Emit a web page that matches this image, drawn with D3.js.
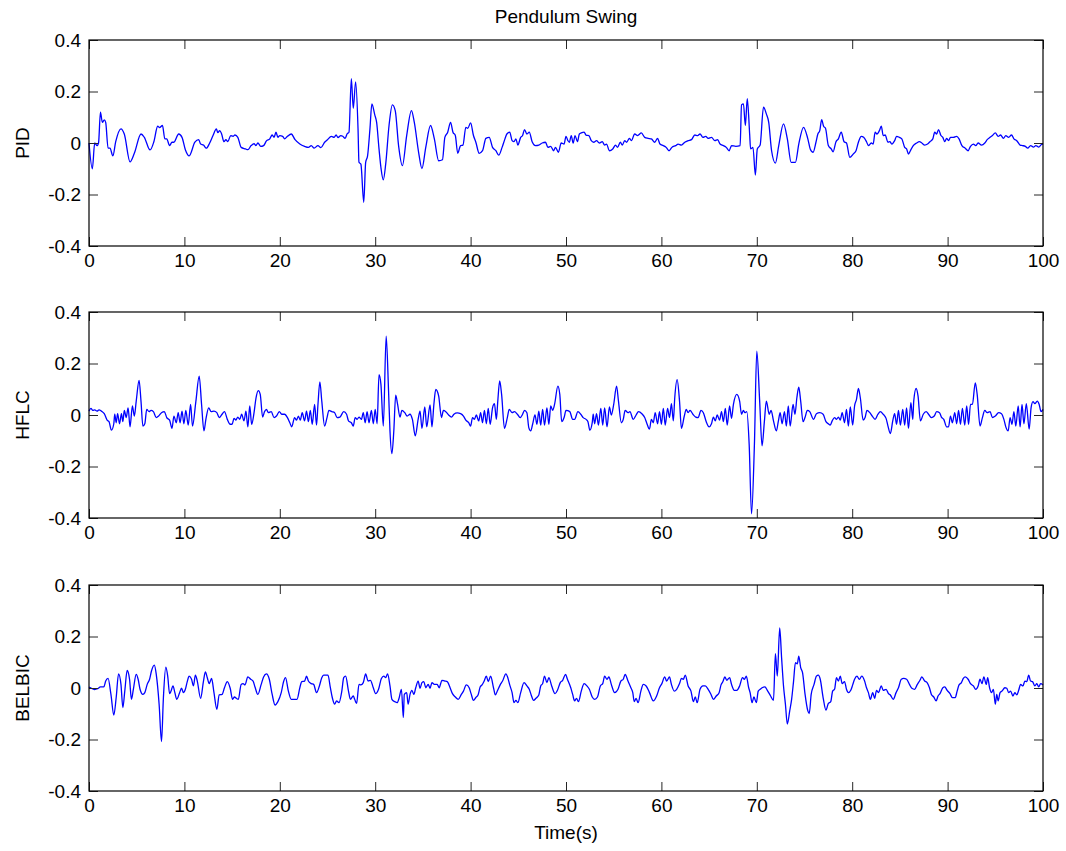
<!DOCTYPE html>
<html>
<head>
<meta charset="utf-8">
<script src="https://cdn.jsdelivr.net/npm/d3@7"></script>
<style>
    body { margin: 0; background: #ffffff; }
    text { font-family: "Liberation Sans", Arial, Helvetica, sans-serif; }
</style>
</head>
<body>
<svg id="pendulum_plot" width="1066" height="851"></svg>
<script>
// values: [time (s), angle]
const pid_series = [
    [0,0],[0.35,-0.1],[0.6,0],[0.85,-0.01],[1.0,0],[1.2,0.12],[1.4,0.08],[1.6,0.09],[1.75,0.08],[2.0,-0.02],[2.2,-0.02],[2.5,-0.05],[2.8,0.005],[3.35,0.055],[3.7,0.035],[4.3,-0.073],[4.75,-0.04],[5.45,0.035],[5.8,0.022],[6.4,-0.027],[6.8,0.005],[7.2,0.065],[7.4,0.06],[7.7,0.068],[7.95,0.016],[8.15,0.016],[8.45,-0.01],[8.7,0.003],[8.9,0.003],[9.4,0.035],[9.75,0.022],[10.1,-0.026],[10.5,-0.05],[11.1,0.003],[11.5,0.013],[11.7,-0.004],[12.0,-0.008],[12.3,-0.02],[12.65,0],[13.0,0.029],[13.35,0.055],[13.5,0.04],[13.7,0.048],[13.9,0.035],[14.15,0.005],[14.35,0.013],[14.55,0.005],[14.85,0.029],[15.1,0.026],[15.3,0.031],[15.6,0.022],[15.95,-0.017],[16.4,-0.023],[16.65,-0.026],[17.0,-0.01],[17.3,-0.003],[17.5,-0.01],[17.7,0],[18.0,-0.013],[18.3,-0.01],[18.6,0.008],[18.95,0.016],[19.2,0.031],[19.4,0.022],[19.6,0.042],[19.8,0.022],[20.0,0.029],[20.3,0.026],[20.5,0.016],[20.8,0.026],[21.2,0.035],[21.6,0.013],[22.1,-0.004],[22.6,-0.013],[23.0,-0.017],[23.3,-0.01],[23.6,-0.02],[24.0,-0.01],[24.3,-0.018],[24.7,0.003],
    [25.0,0.013],[25.4,0.026],[25.7,0.022],[25.9,0.031],[26.1,0.021],[26.4,0.029],[26.6,0.026],[26.85,0.018],[27.05,0.035],[27.25,0.042],[27.5,0.25],[27.7,0.135],[27.95,0.237],[28.2,0.055],[28.3,-0.075],[28.5,-0.082],[28.8,-0.23],[29.0,-0.075],[29.2,-0.05],[29.45,0.055],[29.65,0.152],[29.95,0.11],[30.15,0.08],[30.4,-0.023],[30.6,-0.095],[30.85,-0.143],[31.1,-0.082],[31.45,0.068],[31.8,0.148],[32.1,0.126],[32.45,-0.01],[32.85,-0.088],[33.3,0.029],[33.8,0.126],[34.1,0.08],[34.55,-0.036],[34.9,-0.099],[35.3,-0.017],[35.8,0.068],[36.2,0.016],[36.65,-0.069],[37.05,-0.065],[37.3,0.022],[37.6,0.042],[37.9,0.08],[38.15,0.042],[38.4,0.029],[38.65,-0.04],[38.95,-0.01],[39.2,-0.008],[39.5,0.061],[39.7,0.057],[40.0,0.078],[40.3,0.029],[40.55,0.003],[40.9,-0.04],[41.25,-0.03],[41.6,0.018],[41.95,0.022],[42.3,-0.017],[42.65,-0.03],[42.95,-0.047],[43.3,-0.017],[43.6,0.016],[43.8,0.035],[44.1,0.042],[44.35,0.009],[44.55,0.005],[44.75,0.016],[44.95,-0.008],[45.25,0.022],[45.45,0.029],[45.65,0.052],[45.9,0.035],[46.15,0.042],[46.45,0.005],[46.8,-0.01],[47.15,-0.008],[47.5,0],[47.85,0.003],[48.1,-0.017],[48.4,-0.013],[48.7,-0.03],[48.9,-0.017],[49.2,-0.036],[49.5,0],[49.8,-0.004],[50.0,0.026],[50.2,0.009],
    [50.35,0.003],[50.55,0.029],[50.75,0],[50.95,0.029],[51.2,0.005],[51.4,0.035],[51.6,0.039],[51.9,0.042],[52.1,0.031],[52.4,0.029],[52.65,0.009],[52.9,0.003],[53.2,0.009],[53.5,0],[53.8,0.005],[54.05,-0.008],[54.25,-0.004],[54.55,-0.03],[54.9,-0.023],[55.2,-0.008],[55.4,-0.017],[55.7,0.003],[55.9,-0.008],[56.15,0.009],[56.35,0.003],[56.65,0.018],[56.85,0.009],[57.2,0.035],[57.5,0.029],[57.9,0.039],[58.25,0.022],[58.6,0.018],[58.95,0.016],[59.3,0.003],[59.6,0.018],[59.85,-0.004],[60.2,-0.01],[60.5,-0.017],[60.8,-0.03],[61.1,-0.017],[61.5,-0.01],[61.75,-0.004],[62.1,-0.008],[62.45,0.003],[62.8,0.009],[63.15,0.013],[63.5,0.031],[63.8,0.029],[64.05,0.035],[64.35,0.022],[64.65,0.026],[64.9,0.018],[65.25,0.022],[65.6,0.009],[65.9,0.013],[66.15,-0.004],[66.5,-0.01],[66.8,-0.017],[67.1,-0.03],[67.35,-0.01],[67.8,-0.013],[68.25,-0.01],[68.4,0.148],[68.6,0.152],[68.8,0.068],[69.0,0.172],[69.25,0.035],[69.35,-0.023],[69.6,-0.017],[69.85,-0.125],[70.05,-0.023],[70.35,-0.008],[70.7,0.139],[71.0,0.113],[71.25,0.08],[71.55,-0.03],[71.95,-0.078],[72.3,-0.01],[72.8,0.074],[73.2,0.016],[73.6,-0.075],[74.05,-0.075],[74.4,-0.004],[74.9,0.061],
    [75.35,0.016],[75.6,-0.023],[75.9,-0.036],[76.2,0.003],[76.4,0.035],[76.6,0.048],[76.8,0.091],[77.0,0.065],[77.2,0.057],[77.5,-0.01],[77.8,-0.023],[78.0,-0.034],[78.3,0.005],[78.55,0.016],[78.85,0.042],[79.15,0.005],[79.4,0],[79.75,-0.056],[80.1,-0.043],[80.4,-0.03],[80.65,0.003],[80.95,0.026],[81.2,0.022],[81.5,0.005],[81.7,-0.01],[82.0,0],[82.2,-0.004],[82.4,0.042],[82.6,0.035],[82.85,0.048],[83.05,0.065],[83.25,0.029],[83.45,0.031],[83.75,0.003],[83.95,0.005],[84.15,-0.004],[84.45,0.009],[84.65,0.026],[84.95,0.022],[85.2,0.016],[85.5,-0.017],[85.7,-0.023],[85.9,-0.043],[86.1,-0.03],[86.4,-0.01],[86.75,0],[87.05,0.005],[87.3,0],[87.6,-0.008],[87.9,-0.004],[88.15,0.005],[88.45,0.016],[88.65,0.042],[88.85,0.035],[89.05,0.052],[89.3,0.029],[89.5,0.022],[89.7,0.005],[89.9,0.018],[90.1,0.009],[90.3,0.022],[90.6,0.022],[90.95,0.026],[91.2,0.016],[91.5,-0.01],[91.85,-0.02],[92.15,-0.03],[92.4,-0.013],[92.7,-0.004],[92.95,-0.01],[93.2,0],[93.55,-0.008],[93.9,0],[94.15,0.013],[94.45,0.022],[94.7,0.029],[95.0,0.039],[95.3,0.026],[95.55,0.031],[95.85,0.018],[96.1,0.029],[96.4,0.022],[96.7,0.031],[96.95,0.016],[97.25,0.009],[97.6,-0.008],[97.85,-0.01],[98.15,-0.013],[98.4,-0.02],[98.7,-0.01],[99.0,-0.016],[99.25,-0.01],[99.55,-0.016],[99.9,-0.004],[100,-0.005]
];

const hflc_series = [
    [0,0.015],[0.2,0.026],[0.4,0.018],[0.6,0.02],[0.85,0.015],[1.05,0.02],[1.3,0.015],[1.6,0.005],[1.9,-0.02],[2.1,-0.026],[2.35,-0.059],[2.6,-0.034],[2.7,0.003],[2.85,-0.03],[3.0,0.005],[3.2,-0.034],[3.4,0.005],[3.55,-0.026],[3.7,0.018],[3.9,-0.01],[4.1,0.028],[4.3,-0.046],[4.55,0.035],[4.75,-0.004],[4.95,0.054],[5.25,0.134],[5.45,0.054],[5.65,-0.043],[5.85,-0.034],[6.05,0.022],[6.3,0.013],[6.5,0.018],[6.75,0.013],[7.05,-0.01],[7.3,-0.004],[7.6,0.009],[7.9,0.013],[8.15,-0.01],[8.45,-0.02],[8.7,-0.052],[8.9,-0.004],[9.15,-0.03],[9.35,0.009],[9.55,-0.03],[9.75,0.015],[9.95,-0.034],[10.15,0.018],[10.4,-0.039],[10.65,0.041],[10.85,-0.043],[11.2,0.052],[11.55,0.151],[11.8,0.041],[12.05,-0.062],[12.25,-0.017],[12.55,0.028],[12.8,0.013],[13.1,0.015],[13.4,0.009],[13.65,-0.01],[13.95,0.003],[14.2,0.013],[14.5,-0.017],[14.8,-0.036],[15.0,-0.036],[15.2,-0.013],[15.4,-0.02],[15.6,-0.008],[15.8,-0.017],[16.0,0.003],[16.25,-0.023],[16.45,0.015],[16.65,-0.046],[16.85,0.035],[17.05,-0.036],[17.3,0.009],[17.5,0.065],[17.75,0.095],[17.95,0.08],[18.2,-0.008],[18.4,0.013],[18.6,0.022],[18.8,0.009],[19.1,0.013],[19.4,-0.01],[19.65,-0.004],[19.95,0.013],[20.2,0.003],[20.5,0.003],[20.8,-0.01],[21.05,-0.03],[21.25,-0.046],[21.55,-0.01],[21.75,-0.02],[21.95,-0.004],[22.15,-0.02],[22.35,0.009],[22.6,-0.023],[22.8,0.015],[23.0,-0.026],[23.2,0.018],[23.4,-0.036],[23.65,0.041],[23.85,-0.039],[24.0,0.041],[24.2,0.129],[24.4,0.054],[24.7,-0.043],
    [24.95,-0.01],[25.15,0.018],[25.45,0.013],[25.75,0.009],[26.0,-0.01],[26.3,-0.008],[26.7,0.013],[27.0,0.003],[27.2,-0.023],[27.5,-0.03],[27.7,-0.043],[27.9,-0.01],[28.1,-0.017],[28.3,-0.008],[28.55,-0.017],[28.75,0.009],[28.95,-0.03],[29.15,0.013],[29.35,-0.03],[29.6,0.018],[29.8,-0.034],[30.0,0.022],[30.2,-0.034],[30.4,0.157],[30.6,0.119],[30.85,-0.043],[31.15,0.306],[31.4,0.093],[31.55,-0.062],[31.75,-0.15],[31.95,-0.062],[32.15,0.077],[32.35,0.041],[32.6,-0.008],[32.8,0.018],[33.1,0.009],[33.35,-0.004],[33.65,0.003],[33.9,-0.017],[34.2,-0.081],[34.5,-0.017],[34.7,0.015],[34.9,-0.052],[35.2,0.031],[35.4,-0.046],[35.75,0.039],[35.95,-0.046],[36.15,0.041],[36.35,0.099],[36.65,0.074],[36.95,-0.01],[37.15,0.018],[37.4,0.013],[37.7,0],[38.0,-0.008],[38.25,0.003],[38.6,0.008],[38.95,0.005],[39.25,-0.004],[39.5,-0.02],[39.8,-0.03],[40.0,-0.043],[40.2,-0.01],[40.4,-0.017],[40.6,0],[40.85,-0.023],[41.05,0.009],[41.25,-0.03],[41.45,0.018],[41.65,-0.034],[41.85,0.026],[42.05,-0.036],[42.3,0.028],[42.5,0.044],[42.7,-0.017],[42.85,0.054],[43.05,0.132],[43.25,0.08],[43.55,-0.052],[43.85,-0.01],[44.05,0.022],[44.35,0.009],[44.6,0.013],[44.9,0.003],[45.2,-0.01],[45.45,0.003],[45.65,0.018],[45.9,0.009],[46.1,-0.049],[46.3,-0.062],[46.5,-0.036],[46.75,0],[46.95,-0.036],[47.15,0.015],[47.35,-0.039],[47.55,0.022],[47.75,-0.039],[48.0,0.028],[48.2,-0.036],[48.4,0.035],[48.6,0.018],[48.8,0.041],[49.15,0.112],[49.35,0.08],[49.55,-0.026],[49.8,-0.01],[50.0,0.018],
    [50.4,0.013],[50.7,-0.017],[50.9,-0.017],[51.25,0.013],[51.55,0.003],[51.8,-0.01],[52.1,-0.017],[52.3,-0.026],[52.5,-0.059],[52.75,-0.03],[52.85,0.003],[53.0,-0.034],[53.2,0.005],[53.4,-0.039],[53.65,0.026],[53.85,-0.039],[54.05,0.028],[54.3,-0.046],[54.55,0.031],[54.75,0],[55.0,0.041],[55.3,0.112],[55.5,0.054],[55.8,-0.03],[56.0,-0.017],[56.2,0.018],[56.5,0.009],[56.7,0.013],[57.05,-0.017],[57.35,0],[57.6,0.013],[57.95,0.005],[58.25,-0.01],[58.45,-0.03],[58.75,-0.055],[58.95,-0.017],[59.15,-0.03],[59.35,0.009],[59.6,-0.034],[59.8,0.013],[60.0,-0.036],[60.2,0.026],[60.4,-0.039],[60.65,0.026],[60.85,-0.01],[61.05,0.044],[61.25,-0.023],[61.4,0.067],[61.65,0.137],[61.9,0.054],[62.1,-0.052],[62.4,-0.004],[62.6,0.022],[62.8,0.009],[63.0,0.018],[63.3,0.003],[63.6,-0.008],[63.85,-0.01],[64.15,0.018],[64.4,0.009],[64.7,-0.026],[65.0,-0.046],[65.25,-0.034],[65.45,-0.008],[65.65,-0.023],[65.85,0],[66.1,-0.02],[66.3,0.013],[66.5,-0.026],[66.7,0.026],[66.9,-0.039],[67.15,0.035],[67.35,-0.013],[67.55,0.041],[67.9,0.08],[68.2,0.054],[68.4,0.003],[68.6,0.018],[68.75,0.009],[68.95,0.013],[69.2,-0.114],[69.45,-0.384],[69.75,-0.114],[70.0,0.248],[70.3,0.054],[70.55,-0.12],[70.8,-0.023],[71.0,0.054],[71.3,0.003],[71.5,0.018],[71.75,-0.023],[72.05,-0.062],[72.25,-0.026],[72.45,0.009],[72.65,-0.034],[72.9,0.013],[73.1,-0.043],[73.3,0.035],[73.5,-0.043],[73.8,0.041],[74.0,0.003],[74.2,0.067],[74.4,0.108],[74.6,0.054],[74.85,-0.026],[75.05,-0.01],
    [75.3,0.018],[75.55,0.013],[75.95,-0.017],[76.25,0.005],[76.6,0.009],[76.95,0.003],[77.25,-0.026],[77.5,-0.034],[77.7,-0.039],[77.9,-0.023],[78.15,-0.01],[78.35,-0.017],[78.55,-0.008],[78.75,-0.02],[78.95,0.009],[79.2,-0.03],[79.4,0.022],[79.6,-0.043],[79.8,0.031],[80.05,-0.039],[80.25,0.035],[80.45,0.061],[80.65,0.103],[80.85,0.067],[81.15,-0.02],[81.35,-0.01],[81.55,0.018],[81.85,0.009],[82.1,-0.004],[82.4,-0.017],[82.7,0.003],[82.95,0.013],[83.25,0.003],[83.55,-0.013],[83.75,-0.043],[84.0,-0.072],[84.25,-0.023],[84.45,0.005],[84.65,-0.036],[84.85,0.018],[85.05,-0.039],[85.3,0.022],[85.5,-0.039],[85.7,0.028],[85.9,-0.052],[86.15,0.048],[86.35,-0.017],[86.45,0.054],[86.7,0.103],[86.9,0.074],[87.15,-0.023],[87.45,0.003],[87.75,0.013],[88.0,0.003],[88.3,-0.01],[88.6,-0.004],[88.85,0.013],[89.15,0.009],[89.35,-0.008],[89.6,-0.017],[89.9,-0.046],[90.1,-0.046],[90.3,-0.004],[90.5,-0.03],[90.75,0.009],[90.95,-0.034],[91.15,0.018],[91.35,-0.036],[91.55,0.026],[91.8,-0.039],[92.0,0.035],[92.2,-0.036],[92.4,0.041],[92.6,0.041],[92.9,0.125],[93.1,0.08],[93.4,-0.043],[93.65,-0.01],[93.9,0.018],[94.15,0.009],[94.45,0.013],[94.7,-0.01],[95.0,-0.004],[95.35,0.009],[95.65,0.005],[95.9,-0.017],[96.1,-0.046],[96.35,-0.062],[96.55,-0.01],[96.75,-0.036],[96.95,0.013],[97.15,-0.043],[97.4,0.035],[97.6,-0.046],[97.8,0.041],[98.0,-0.034],[98.25,0.044],[98.55,-0.055],[98.75,0.028],[98.95,0.052],[99.15,0.044],[99.4,0.054],[99.6,0.041],[99.8,0.013],[100,0.022]
];

const belbic_series = [
    [0,0.004],[0.35,-0.003],[0.6,-0.006],[0.9,-0.003],[1.2,0.004],[1.55,0.004],[1.75,0.027],[2.0,0.037],[2.3,-0.025],[2.6,-0.105],[2.85,-0.037],[3.1,0.055],[3.35,0.014],[3.55,-0.076],[3.75,-0.012],[4.0,0.068],[4.25,0.034],[4.45,-0.044],[4.65,-0.005],[4.95,0.053],[5.15,0.034],[5.35,-0.005],[5.65,-0.025],[5.85,-0.018],[6.1,0.014],[6.35,0.034],[6.55,0.066],[6.85,0.089],[7.05,0.053],[7.35,-0.063],[7.6,-0.208],[7.8,-0.037],[8.05,0.081],[8.25,0.046],[8.45,-0.022],[8.6,-0.012],[8.8,0.008],[9.0,-0.018],[9.2,-0.044],[9.5,-0.018],[9.7,-0.001],[9.9,-0.018],[10.1,-0.005],[10.3,0.025],[10.5,0.046],[10.75,0.034],[10.95,0.008],[11.15,0.05],[11.35,0.027],[11.7,-0.04],[12.0,0.027],[12.2,0.063],[12.4,0.04],[12.6,0.017],[12.85,0.037],[13.1,-0.018],[13.4,-0.083],[13.65,-0.027],[13.95,-0.025],[14.2,0.001],[14.5,0.025],[14.8,-0.001],[15.05,-0.044],[15.25,-0.035],[15.45,-0.04],[15.65,-0.044],[15.95,0.014],[16.15,0.017],[16.35,0.012],[16.65,0.043],[16.95,0.034],[17.2,0.027],[17.4,0.004],[17.7,-0.025],[18.05,0.014],[18.3,0.043],[18.6,0.055],[18.9,0.034],[19.2,-0.025],[19.5,-0.066],[19.8,-0.053],[20.15,-0.018],[20.4,0.025],[20.6,0.04],[20.9,-0.012],[21.2,-0.044],[21.55,-0.044],[21.8,-0.044],[22.1,0.001],[22.3,0.025],[22.6,0.027],[22.8,0.046],[23.0,0.027],[23.3,0.017],[23.55,0.014],[23.85,-0.018],[24.15,0.008],[24.4,0.04],[24.6,0.05],
    [25.05,0.05],[25.3,0.001],[25.5,-0.037],[25.75,-0.063],[25.95,-0.05],[26.2,-0.057],[26.5,-0.012],[26.7,0.04],[26.9,0.046],[27.2,-0.012],[27.4,-0.044],[27.7,-0.031],[27.85,-0.044],[28.05,-0.06],[28.3,0.014],[28.5,0.012],[28.75,0.021],[29.0,0.055],[29.25,0.027],[29.5,0.03],[29.8,0.001],[30.05,-0.022],[30.35,-0.005],[30.65,0.037],[30.9,0.046],[31.1,0.04],[31.3,0.055],[31.55,0.008],[31.75,-0.044],[32.05,-0.053],[32.3,-0.057],[32.5,-0.04],[32.75,-0.005],[32.95,-0.115],[33.05,-0.025],[33.3,-0.018],[33.45,-0.063],[33.65,-0.025],[33.85,-0.009],[34.05,-0.025],[34.25,0.001],[34.5,0.027],[34.7,-0.001],[34.9,0.021],[35.1,0.025],[35.3,0.001],[35.55,0.014],[35.75,-0.001],[35.95,0.021],[36.2,0.014],[36.5,0.014],[36.7,0.001],[37.0,0.03],[37.3,0.027],[37.55,0.025],[37.85,0.001],[38.1,-0.022],[38.4,-0.035],[38.7,-0.044],[39.0,-0.027],[39.25,-0.012],[39.55,0.012],[39.85,0.001],[40.05,-0.022],[40.3,-0.048],[40.55,-0.037],[40.8,-0.025],[41.0,0.004],[41.2,0.012],[41.4,0.025],[41.65,0.046],[41.85,0.025],[42.1,0.046],[42.4,0.001],[42.6,-0.027],[42.8,-0.012],[43.1,0.012],[43.35,0.027],[43.7,0.055],[43.9,0.04],[44.1,0.012],[44.35,-0.018],[44.55,-0.057],[44.75,-0.048],[44.95,-0.057],[45.25,-0.018],[45.6,0.021],[45.9,0.008],[46.15,-0.005],[46.35,-0.027],[46.6,-0.048],[46.85,-0.04],[47.15,-0.027],[47.35,0.008],[47.55,0.017],[47.75,0.046],[48.0,0.021],[48.2,0.04],[48.5,0.008],[48.85,-0.022],[49.1,-0.009],[49.4,0.021],[49.65,0.03],[49.95,0.053],[50.15,0.034],
    [50.5,0.001],[50.7,-0.025],[50.9,-0.05],[51.1,-0.04],[51.3,-0.053],[51.6,-0.012],[51.9,0.017],[52.2,0.008],[52.45,-0.005],[52.75,-0.035],[53.0,-0.044],[53.3,-0.035],[53.6,0.008],[53.85,0.017],[54.05,0.046],[54.3,0.034],[54.5,0.043],[54.75,0.014],[55.1,-0.018],[55.45,-0.005],[55.75,0.027],[56.0,0.034],[56.2,0.053],[56.5,0.027],[56.8,0.001],[57.0,-0.018],[57.15,-0.053],[57.35,-0.04],[57.55,-0.057],[57.85,-0.012],[58.1,0.014],[58.4,0.008],[58.75,-0.018],[59.15,-0.05],[59.5,-0.031],[59.8,0.001],[60.05,0.017],[60.35,0.043],[60.55,0.027],[60.85,0.043],[61.05,0.014],[61.35,-0.012],[61.6,-0.005],[61.9,0.017],[62.1,0.037],[62.3,0.034],[62.5,0.05],[62.8,0.008],[63.1,-0.012],[63.35,-0.053],[63.55,-0.035],[63.75,-0.057],[64.05,-0.005],[64.35,0.008],[64.6,0.008],[64.9,-0.005],[65.2,-0.025],[65.45,-0.044],[65.75,-0.031],[66.05,-0.018],[66.25,0.012],[66.45,0.025],[66.65,0.043],[66.85,0.03],[67.15,0.04],[67.35,0.014],[67.65,-0.009],[67.9,-0.009],[68.2,0.008],[68.5,0.04],[68.7,0.034],[68.9,0.046],[69.15,0.001],[69.3,-0.018],[69.5,-0.057],[69.7,-0.035],[69.95,-0.057],[70.15,-0.012],[70.35,-0.005],[70.55,0.001],[70.85,0.004],[71.1,-0.009],[71.45,-0.031],[71.75,-0.048],[71.95,0.133],[72.15,0.046],[72.4,0.233],[72.6,0.117],[72.8,0.008],[73.0,-0.063],[73.2,-0.14],[73.45,-0.089],[73.65,-0.044],[73.85,0.025],[74.05,0.098],[74.25,0.094],[74.4,0.124],[74.6,0.079],[74.8,0.059],[75.05,-0.022],
    [75.35,-0.089],[75.5,-0.099],[75.7,-0.025],[76.0,0.014],[76.25,0.046],[76.45,0.05],[76.65,0.034],[76.95,-0.037],[77.25,-0.086],[77.5,-0.06],[77.75,-0.053],[77.95,-0.012],[78.15,-0.005],[78.35,0.04],[78.55,0.027],[78.75,0.046],[78.95,0.017],[79.2,0.025],[79.4,-0.005],[79.6,-0.018],[79.85,-0.009],[80.05,0.012],[80.25,0.034],[80.5,0.046],[80.75,0.034],[81.0,0.046],[81.3,0.027],[81.5,0.001],[81.7,-0.018],[81.9,-0.044],[82.15,-0.018],[82.35,-0.04],[82.55,-0.009],[82.75,-0.018],[83.05,0.008],[83.25,-0.009],[83.55,-0.005],[83.8,-0.022],[84.0,-0.027],[84.3,-0.044],[84.6,-0.018],[84.85,0.001],[85.15,0.034],[85.4,0.037],[85.7,0.034],[86.0,0.014],[86.25,-0.001],[86.55,-0.005],[86.8,0.012],[87.1,0.03],[87.3,0.043],[87.6,0.027],[87.85,0.021],[88.1,0.001],[88.3,-0.025],[88.55,-0.035],[88.8,-0.05],[89.0,-0.031],[89.2,-0.022],[89.5,0.001],[89.7,0.004],[89.95,-0.009],[90.25,-0.022],[90.5,-0.037],[90.8,-0.037],[91.0,-0.012],[91.2,0.012],[91.45,0.021],[91.65,0.037],[91.85,0.043],[92.15,0.034],[92.4,0.017],[92.7,0.008],[92.95,-0.005],[93.2,0.008],[93.4,0.034],[93.6,0.017],[93.8,0.043],[94.05,0.014],[94.2,0.04],[94.4,0.001],[94.6,-0.018],[94.8,-0.005],[95.0,-0.063],[95.15,-0.025],[95.3,-0.05],[95.5,-0.018],[95.7,-0.012],[96.0,0.001],[96.2,-0.001],[96.4,-0.018],[96.6,-0.012],[96.85,-0.031],[97.05,-0.018],[97.25,-0.027],[97.45,-0.009],[97.65,0.014],[97.9,0.008],[98.1,0.027],[98.3,0.025],[98.5,0.05],[98.7,0.027],[98.9,0.025],[99.15,0.008],[99.35,0.017],[99.55,0.004],[99.75,0.017],[100,0.012]
];

const panel_names   = ["PID", "HFLC", "BELBIC"];
const x_tick_values = [0, 10, 20, 30, 40, 50, 60, 70, 80, 90, 100];
const y_tick_values = [-0.4, -0.2, 0, 0.2, 0.4];
const y_tick_labels = ["-0.4", "-0.2", "0", "0.2", "0.4"];

const chart_title   = "Pendulum Swing";
const x_axis_title  = "Time(s)";

// the following code is used to set up the figure
var target_svg = d3.select("#pendulum_plot");

var panel_left   = 89;
var panel_width  = 954;
var panel_height = 206;
var panel_tops   = [40, 312, 585];
var tick_length  = 9;
var font_size    = 19;

var all_series = [pid_series, hflc_series, belbic_series];

const AxisScaleX = d3.scaleLinear()
    .domain([0, 100])
    .range([0, panel_width]);

const AxisScaleY = d3.scaleLinear()
    .domain([-0.4, 0.4])
    .range([panel_height, 0]);

// monotone keeps the peaks where they were read, without overshoot
const line_maker = d3.line()
    .curve(d3.curveMonotoneX)
    .x(d => AxisScaleX(d[0]))
    .y(d => AxisScaleY(d[1]));

// here we are currently rendering the three panels
panel_names.forEach((panel_name, i) =>
{
    const panel = target_svg.append("g")
        .attr("transform", `translate(${panel_left},${panel_tops[i]})`);

    panel.append("rect")
        .attr("width",  panel_width)
        .attr("height", panel_height)
        .attr("fill",   "#ffffff");

    panel.append("path")
        .datum(all_series[i])
        .attr("fill",         "none")
        .attr("stroke",       "#0000ff")
        .attr("stroke-width", 1.3)
        .attr("d",            line_maker);

    // bottom axis has the labels, the other three only carry inward ticks
    const AxisX = d3.axisBottom(AxisScaleX)
        .tickValues(x_tick_values)
        .tickSizeInner(-tick_length)
        .tickSizeOuter(0)
        .tickPadding(8)
        .tickFormat(d3.format("d"));

    const AxisXTop = d3.axisTop(AxisScaleX)
        .tickValues(x_tick_values)
        .tickSizeInner(-tick_length)
        .tickSizeOuter(0)
        .tickFormat("");

    const AxisY = d3.axisLeft(AxisScaleY)
        .tickValues(y_tick_values)
        .tickSizeInner(-tick_length)
        .tickSizeOuter(0)
        .tickPadding(8)
        .tickFormat((d, k) => y_tick_labels[k]);

    const AxisYRight = d3.axisRight(AxisScaleY)
        .tickValues(y_tick_values)
        .tickSizeInner(-tick_length)
        .tickSizeOuter(0)
        .tickFormat("");

    const axis_groups = [
        panel.append("g").attr("transform", `translate(0,${panel_height})`).call(AxisX),
        panel.append("g").call(AxisXTop),
        panel.append("g").call(AxisY),
        panel.append("g").attr("transform", `translate(${panel_width},0)`).call(AxisYRight)
    ];

    axis_groups.forEach(g =>
    {
        g.selectAll(".domain").remove();
        g.selectAll(".tick line").attr("stroke", "#262626");
        g.selectAll(".tick text")
            .attr("fill",        "#000000")
            .style("font-size",  font_size + "px")
            .style("font-family", "Liberation Sans, Arial, sans-serif");
    });

    panel.append("rect")
        .attr("width",        panel_width)
        .attr("height",       panel_height)
        .attr("fill",         "none")
        .attr("stroke",       "#000000")
        .attr("stroke-width", 1.2);

    panel.append("text")
        .attr("transform",   `translate(${-60},${panel_height / 2}) rotate(-90)`)
        .attr("text-anchor", "middle")
        .style("font-size",  font_size + "px")
        .text(panel_name);
});

// the following code is used to draw the titles
target_svg.append("text")
    .attr("x",           panel_left + panel_width / 2)
    .attr("y",           23)
    .attr("text-anchor", "middle")
    .style("font-size",  font_size + "px")
    .text(chart_title);

target_svg.append("text")
    .attr("x",           panel_left + panel_width / 2)
    .attr("y",           839)
    .attr("text-anchor", "middle")
    .style("font-size",  font_size + "px")
    .text(x_axis_title);
</script>
</body>
</html>
